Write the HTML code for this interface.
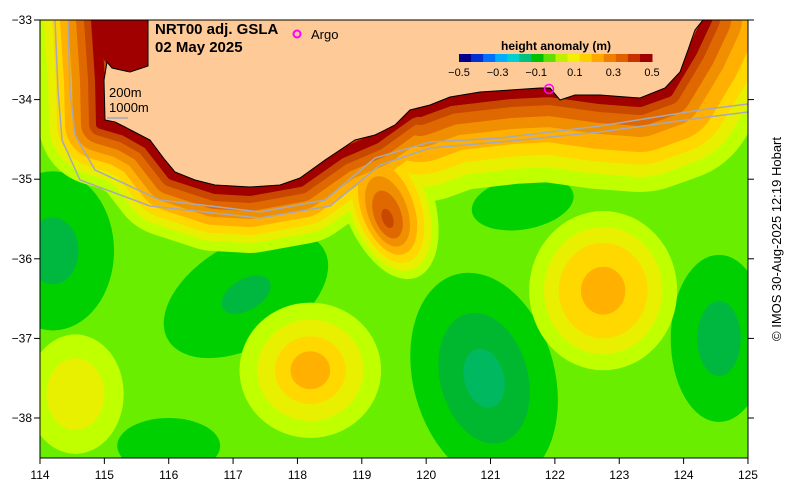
<!DOCTYPE html>
<html><head><meta charset="utf-8"><style>
body{margin:0;background:#fff;}
svg{display:block;font-family:"Liberation Sans",sans-serif;}
</style></head><body>
<svg id="map" width="791" height="492" viewBox="0 0 791 492" xmlns="http://www.w3.org/2000/svg">
<defs><clipPath id="plot"><rect x="40" y="20" width="708" height="438"/></clipPath></defs>
<g clip-path="url(#plot)">
<rect x="40" y="20" width="708" height="438" fill="#6aee00"/>
<g id="blobs"></g>
<g id="coastbands"></g>
<polygon points="100,20 148,20 148,66 130,72 112,68 104,60 100,40" fill="#a00000"/>
<path d="M55,20 L58,90 L62,140 L80,180 L150,206 L260,218 L330,206 L380,165 L430,148 L500,142 L600,132 L700,118 L748,112" fill="none" stroke="#a8a8b8" stroke-width="1.5"/>
<path d="M68,20 L70,90 L75,135 L95,170 L160,200 L260,212 L325,200 L375,158 L430,142 L500,138 L600,126 L700,110 L748,104" fill="none" stroke="#a8a8b8" stroke-width="1.5"/>
<path d="M148,20 L148,66 L130,72 L112,68 L107,62 L104,80 L105,120 L115,122 L125,127 L150,140 L165,160 L175,172 L195,180 L215,185 L250,187 L280,185 L300,178 L325,160 L340,150 L355,140 L375,135 L395,125 L410,110 L430,105 L450,97 L480,92 L510,90 L540,88 L550,88 L560,100 L575,95 L600,95 L640,98 L665,88 L680,72 L688,50 L695,30 L703,20 Z" fill="#fdca98" stroke="#000" stroke-width="1"/>
</g>
<rect x="40" y="20" width="708" height="438" fill="none" stroke="#000" stroke-width="1"/>
<g id="axes" font-size="12" fill="#000"></g>
<text x="155" y="34" font-size="15" font-weight="bold">NRT00 adj. GSLA</text>
<text x="155" y="52" font-size="15" font-weight="bold">02 May 2025</text>
<circle cx="297" cy="34" r="3.5" fill="none" stroke="#ff00ff" stroke-width="2"/>
<text x="311" y="39" font-size="13">Argo</text>
<circle cx="549" cy="89" r="4.5" fill="none" stroke="#ff00ff" stroke-width="1.5"/>
<text x="109" y="97" font-size="13">200m</text>
<text x="109" y="112" font-size="13">1000m</text>
<line x1="107" y1="118" x2="128" y2="118" stroke="#a8a8b8" stroke-width="1.5"/>
<text x="556" y="50" font-size="12" font-weight="bold" text-anchor="middle">height anomaly (m)</text>
<g id="colorbar"></g>
<text transform="translate(781,239) rotate(-90)" font-size="13" text-anchor="middle">© IMOS 30-Aug-2025 12:19 Hobart</text>
</svg>
<script>
const xTicks=[114,115,116,117,118,119,120,121,122,123,124,125];
const yTicks=[-33,-34,-35,-36,-37,-38];
const cbTicks=[-0.5,-0.3,-0.1,0.1,0.3,0.5];
// anomaly features: centre lon/lat, radii (deg), rotation, ring levels (outer->inner), ring scale factors
const featLon=[114.2,117.2,121.5,120.9,124.55,116.0,114.55,118.2,122.75];
const featLat=[-35.9,-36.45,-35.3,-37.5,-37.0,-38.35,-37.7,-37.4,-36.4];
const featRx=[0.95,1.4,0.8,1.1,0.75,0.8,0.75,1.1,1.15];
const featRy=[1.0,0.65,0.33,1.35,1.05,0.35,0.75,0.85,1.0];
const featRot=[0,-30,-10,-15,0,0,0,0,0];
const featLevels=[
 ["#00d000","#00b840"],["#00d000","#00b840"],["#00d000"],["#00d000","#00b830","#00b860"],
 ["#00d000","#00b840"],["#00d000"],["#c0ff00","#e8f000"],["#c0ff00","#e8f000","#ffd800","#ffb000"],
 ["#c0ff00","#e8f000","#ffd800","#ffb000"]];
const featScale=[[1,0.42],[1,0.3],[1],[1,0.62,0.28],[1,0.45],[1],[1,0.6],[1,0.75,0.5,0.28],[1,0.8,0.6,0.3]];
// coastal levels (outer->inner) with band widths; tongue off coast near 119.5E
const bandColors=["#c0ff00","#e8f000","#ffd800","#ffb000","#f09000","#e06800","#c84800","#a00000"];
const bandWidths=[124,104,88,72,56,40,24,10];
const eastWidths=[180,150,125,100,70,48,26,10];
const tongueScale=[1,0.86,0.72,0.58,0.44,0.3,0.12,0];
const ns="http://www.w3.org/2000/svg";
const px=lon=>40+(lon-114)*64.36;
const py=lat=>20+(-33-lat)*79.6;
function ell(g,cx,cy,rx,ry,rot,c,name){
  const e=document.createElementNS(ns,'ellipse');
  
  
  e.setAttribute('cx',cx);e.setAttribute('cy',cy);e.setAttribute('rx',rx);e.setAttribute('ry',ry);
  e.setAttribute('transform',`rotate(${rot} ${cx} ${cy})`);e.setAttribute('fill',c);g.appendChild(e);
}
const blobs=document.getElementById('blobs');
featLon.forEach((lon,i)=>{
  featLevels[i].forEach((c,k)=>{
    const f=featScale[i][k];
    ell(blobs,px(lon),py(featLat[i]),featRx[i]*64.36*f,featRy[i]*79.6*f,featRot[i],c,'anomaly-contour');
  });
});
const coast="M96,20 L100,80 L101,124 L125,131 L148,144 L172,175 L215,189 L250,191 L300,182 L340,154 L375,139 L410,114 L450,101 L510,94 L550,92 L600,99 L640,102 L668,92 L692,52 L707,20";
const eastCoast="M420,112 L450,101 L510,94 L550,92 L600,99 L640,102 L668,92 L692,52 L707,20";
const cb=document.getElementById('coastbands');
function band(d,c,w){
  const p=document.createElementNS(ns,'path');
  
  
  p.setAttribute('d',d);p.setAttribute('fill','none');
  p.setAttribute('stroke',c);p.setAttribute('stroke-width',w);
  p.setAttribute('stroke-linejoin','round');p.setAttribute('stroke-linecap','round');cb.appendChild(p);
}
bandColors.forEach((c,i)=>{
  band(coast,c,bandWidths[i]);
  band(eastCoast,c,eastWidths[i]);
  const f=tongueScale[i];
  if(f>0) ell(cb,px(119.4),py(-35.25)+(1-f)*22,0.7*64.36*f,1.05*79.6*f,-20,c,'tongue-contour');
});
const ax=document.getElementById('axes');
xTicks.forEach(v=>{
  const l=document.createElementNS(ns,'line');
  
  l.setAttribute('x1',px(v));l.setAttribute('x2',px(v));l.setAttribute('y1',458);l.setAttribute('y2',464);l.setAttribute('stroke','#000');ax.appendChild(l);
  const t=document.createElementNS(ns,'text');
  
  t.setAttribute('x',px(v));t.setAttribute('y',479);t.setAttribute('text-anchor','middle');t.textContent=v;ax.appendChild(t);
});
yTicks.forEach(v=>{
  const l=document.createElementNS(ns,'line');
  
  l.setAttribute('x1',34);l.setAttribute('x2',40);l.setAttribute('y1',py(v));l.setAttribute('y2',py(v));l.setAttribute('stroke','#000');ax.appendChild(l);
  const l2=document.createElementNS(ns,'line');
  
  l2.setAttribute('x1',748);l2.setAttribute('x2',754);l2.setAttribute('y1',py(v));l2.setAttribute('y2',py(v));l2.setAttribute('stroke','#000');ax.appendChild(l2);
  const t=document.createElementNS(ns,'text');
  
  t.setAttribute('x',32);t.setAttribute('y',py(v)+4);t.setAttribute('text-anchor','end');t.textContent='−'+Math.abs(v);ax.appendChild(t);
});
const cbG=document.getElementById('colorbar');
const grad=["#00008c","#0030d0","#0070ff","#00b0ff","#00d0d0","#00c080","#00c000","#60e000","#c0f000","#f0f000","#ffd000","#ffa800","#f08000","#e06000","#c83000","#a00000"];
const cx0=459,cw=193;
grad.forEach((c,i)=>{
  const r=document.createElementNS(ns,'rect');
  
  r.setAttribute('x',cx0+i*cw/grad.length);r.setAttribute('y',54);r.setAttribute('width',cw/grad.length+0.5);r.setAttribute('height',8);r.setAttribute('fill',c);cbG.appendChild(r);
});
cbTicks.forEach(v=>{
  const t=document.createElementNS(ns,'text');
  
  t.setAttribute('x',cx0+(v+0.5)/1*cw);t.setAttribute('y',76);t.setAttribute('text-anchor','middle');t.setAttribute('font-size','11');
  t.textContent=(v<0?'−':'')+Math.abs(v);cbG.appendChild(t);
});
</script>
</body></html>
